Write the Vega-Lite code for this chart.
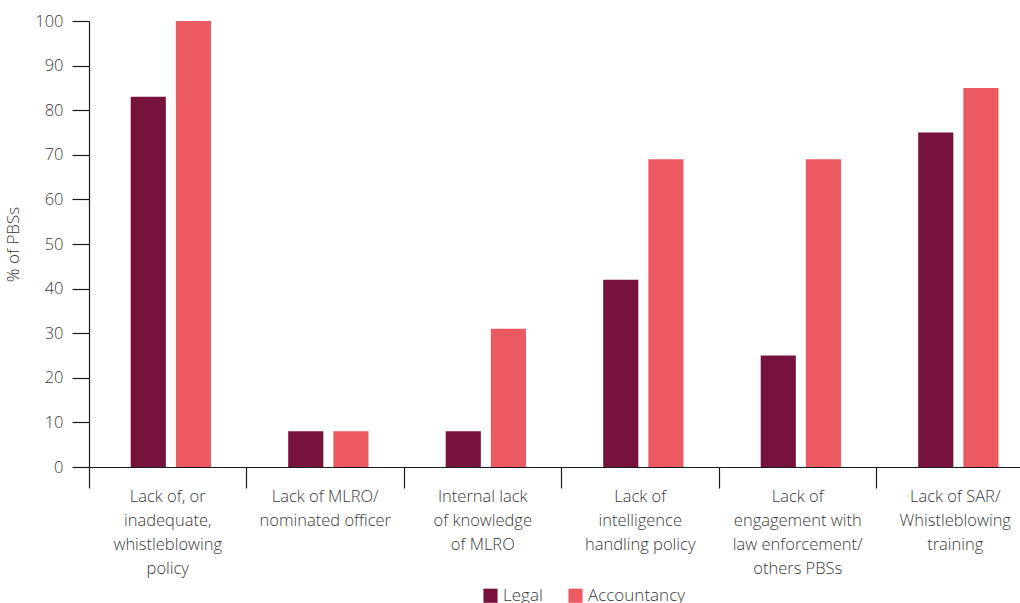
{
  "$schema": "https://vega.github.io/schema/vega-lite/v6.json",
  "autosize": {"type": "none"},
  "width": 931,
  "height": 446,
  "padding": {"left": 89, "top": 21, "right": 0, "bottom": 136},
  "background": "white",
  "config": {
    "view": {"stroke": null},
    "font": "Open Sans",
    "axis": {"labelFont": "Open Sans", "titleFont": "Open Sans"}
  },
  "data": {
    "values": [
      {"category": "Lack of, or|inadequate,|whistleblowing|policy", "sector": "Legal", "value": 83},
      {"category": "Lack of, or|inadequate,|whistleblowing|policy", "sector": "Accountancy", "value": 100},
      {"category": "Lack of MLRO/|nominated officer", "sector": "Legal", "value": 8},
      {"category": "Lack of MLRO/|nominated officer", "sector": "Accountancy", "value": 8},
      {"category": "Internal lack|of knowledge|of MLRO", "sector": "Legal", "value": 8},
      {"category": "Internal lack|of knowledge|of MLRO", "sector": "Accountancy", "value": 31},
      {"category": "Lack of|intelligence|handling policy", "sector": "Legal", "value": 42},
      {"category": "Lack of|intelligence|handling policy", "sector": "Accountancy", "value": 69},
      {"category": "Lack of|engagement with|law enforcement/|others PBSs", "sector": "Legal", "value": 25},
      {"category": "Lack of|engagement with|law enforcement/|others PBSs", "sector": "Accountancy", "value": 69},
      {"category": "Lack of SAR/|Whistleblowing|training", "sector": "Legal", "value": 75},
      {"category": "Lack of SAR/|Whistleblowing|training", "sector": "Accountancy", "value": 85}
    ]
  },
  "mark": {"type": "bar"},
  "encoding": {
    "x": {
      "field": "category",
      "type": "nominal",
      "sort": null,
      "scale": {"range": [0, 945], "paddingInner": 0, "paddingOuter": 0},
      "axis": {
        "title": null,
        "labelAngle": 0,
        "bandPosition": 0,
        "labelExpr": "split(datum.label, '|')",
        "labelFontSize": 16.5,
        "labelFontWeight": 300,
        "labelColor": "#3a3a3a",
        "labelLineHeight": 24,
        "labelBaseline": "top",
        "labelPadding": 0,
        "labelAlign": "center",
        "tickSize": 21,
        "tickColor": "#1a1a1a",
        "tickWidth": 1.2,
        "domainColor": "#1a1a1a",
        "domainWidth": 1.2,
        "labelLimit": 200
      }
    },
    "xOffset": {
      "field": "sector",
      "type": "nominal",
      "sort": ["Legal", "Accountancy"],
      "scale": {"paddingInner": 0.222, "paddingOuter": 0.855, "align": 0.54}
    },
    "y": {
      "field": "value",
      "type": "quantitative",
      "scale": {"domain": [0, 100], "nice": false},
      "axis": {
        "title": "% of PBSs",
        "titleFontSize": 17,
        "titleFontWeight": 300,
        "titleColor": "#3a3a3a",
        "titlePadding": 12,
        "values": [0, 10, 20, 30, 40, 50, 60, 70, 80, 90, 100],
        "grid": false,
        "labelFontSize": 16.5,
        "labelFontWeight": 300,
        "labelColor": "#3a3a3a",
        "labelPadding": 9,
        "tickSize": 17,
        "tickColor": "#1a1a1a",
        "tickWidth": 1.2,
        "domainColor": "#1a1a1a",
        "domainWidth": 1.2
      }
    },
    "color": {
      "field": "sector",
      "type": "nominal",
      "sort": ["Legal", "Accountancy"],
      "scale": {"domain": ["Legal", "Accountancy"], "range": ["#76123b", "#eb5a60"]},
      "legend": {
        "title": null,
        "orient": "none",
        "direction": "horizontal",
        "legendX": 393,
        "legendY": 566,
        "symbolType": "square",
        "symbolSize": 200,
        "symbolStrokeWidth": 0,
        "labelFontSize": 17,
        "labelFontWeight": 300,
        "labelColor": "#3a3a3a",
        "labelFont": "Open Sans",
        "columnPadding": 24,
        "labelOffset": 4
      }
    }
  }
}
